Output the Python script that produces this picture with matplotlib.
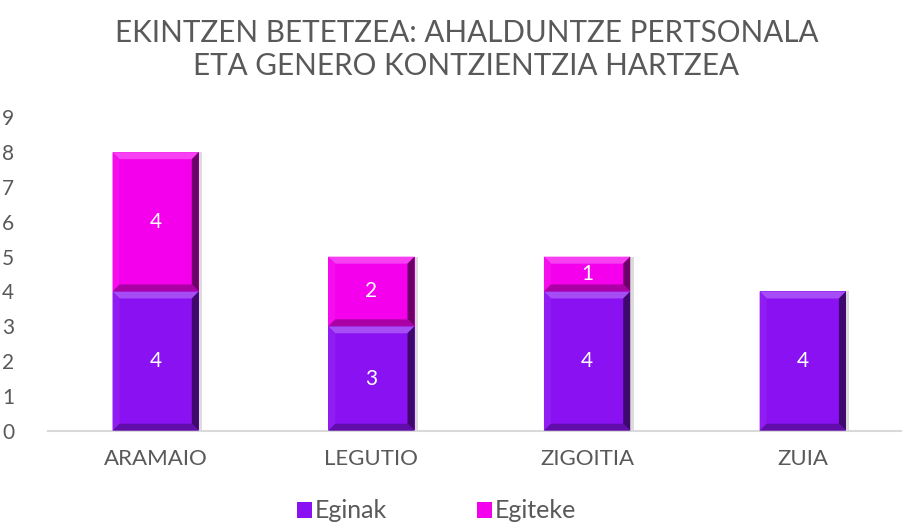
import matplotlib.pyplot as plt
import numpy as np
from matplotlib.patches import Polygon, Rectangle

plt.rcParams['font.family'] = ['Lato', 'DejaVu Sans']

categories = ['ARAMAIO', 'LEGUTIO', 'ZIGOITIA', 'ZUIA']
eginak = [4, 3, 4, 4]
egiteke = [4, 2, 1, 0]
series_names = ['Eginak', 'Egiteke']
y_ticks = list(range(0, 10))

purple = '#8a12f2'
magenta = '#f400ec'
text_grey = '#595959'


def shade(color, factor):
    """Blend a colour towards white (factor > 0) or black (factor < 0)."""
    rgb = np.array(plt.matplotlib.colors.to_rgb(color))
    if factor >= 0:
        rgb = rgb + (1 - rgb) * factor
    else:
        rgb = rgb * (1 + factor)
    return tuple(rgb)


def bevel(ax, bar, color, px=7):
    """Draw a bevelled look onto a single bar."""
    x0, y0 = bar.get_x(), bar.get_y()
    w, h = bar.get_width(), bar.get_height()
    if h <= 0:
        return
    # bevel depth in data units
    inv = ax.transData.inverted()
    p0 = inv.transform((0, 0))
    p1 = inv.transform((px, px))
    dx, dy = p1[0] - p0[0], p1[1] - p0[1]
    x1, y1 = x0 + w, y0 + h
    faces = [
        ([(x0, y1), (x1, y1), (x1 - dx, y1 - dy), (x0 + dx, y1 - dy)], shade(color, 0.25)),
        ([(x0, y0), (x0, y1), (x0 + dx, y1 - dy), (x0 + dx, y0 + dy)], shade(color, 0.05)),
        ([(x1, y0), (x1, y1), (x1 - dx, y1 - dy), (x1 - dx, y0 + dy)], shade(color, -0.55)),
        ([(x0, y0), (x1, y0), (x1 - dx, y0 + dy), (x0 + dx, y0 + dy)], shade(color, -0.3)),
    ]
    for pts, c in faces:
        ax.add_patch(Polygon(pts, closed=True, facecolor=c, edgecolor='none', zorder=3))
    # soft shadow to the right
    ax.add_patch(Rectangle((x1, y0), dx * 0.5, h, facecolor='#dcdcdc',
                           edgecolor='none', zorder=1))


fig = plt.figure(figsize=(9.02, 5.24), dpi=100)
ax = fig.add_axes([0.053, 0.178, 0.947, 0.598])

x = np.arange(len(categories))
width = 0.4
b1 = ax.bar(x, eginak, width, color=purple, zorder=2, label=series_names[0])
b2 = ax.bar(x, egiteke, width, bottom=eginak, color=magenta, zorder=2, label=series_names[1])

ax.set_xlim(-0.5, 3.46)
ax.set_ylim(0, 9)

for bars, vals, col in [(b1, eginak, purple), (b2, egiteke, magenta)]:
    for bar, v in zip(bars, vals):
        if v == 0:
            continue
        bevel(ax, bar, col)
        ax.text(bar.get_x() + bar.get_width() / 2, bar.get_y() + v / 2, str(v),
                ha='center', va='center', color='white', fontsize=15, zorder=4)

ax.set_yticks(y_ticks)
ax.set_xticks(x)
ax.set_xticklabels(categories)
ax.tick_params(axis='both', length=0, labelsize=15, colors=text_grey)
ax.tick_params(axis='x', labelsize=16, pad=13)
ax.tick_params(axis='y', pad=33)
for lab in ax.get_yticklabels():
    lab.set_horizontalalignment('left')

for side in ['top', 'right', 'left']:
    ax.spines[side].set_visible(False)
ax.spines['bottom'].set_color('#d9d9d9')
ax.spines['bottom'].set_linewidth(1.5)

fig.text(0.517, 0.905, 'EKINTZEN BETETZEA: AHALDUNTZE PERTSONALA\nETA GENERO KONTZIENTZIA HARTZEA',
         ha='center', va='center', fontsize=21.3, color=text_grey, linespacing=1.2)

leg = fig.legend(handles=[b1, b2], labels=series_names, loc='center',
                 bbox_to_anchor=(0.484, 0.025), ncol=2, frameon=False,
                 fontsize=18, handlelength=0.6, handleheight=0.6,
                 handletextpad=0.1, columnspacing=3.6)
for t in leg.get_texts():
    t.set_color(text_grey)

fig.savefig('out.png', dpi=100)
